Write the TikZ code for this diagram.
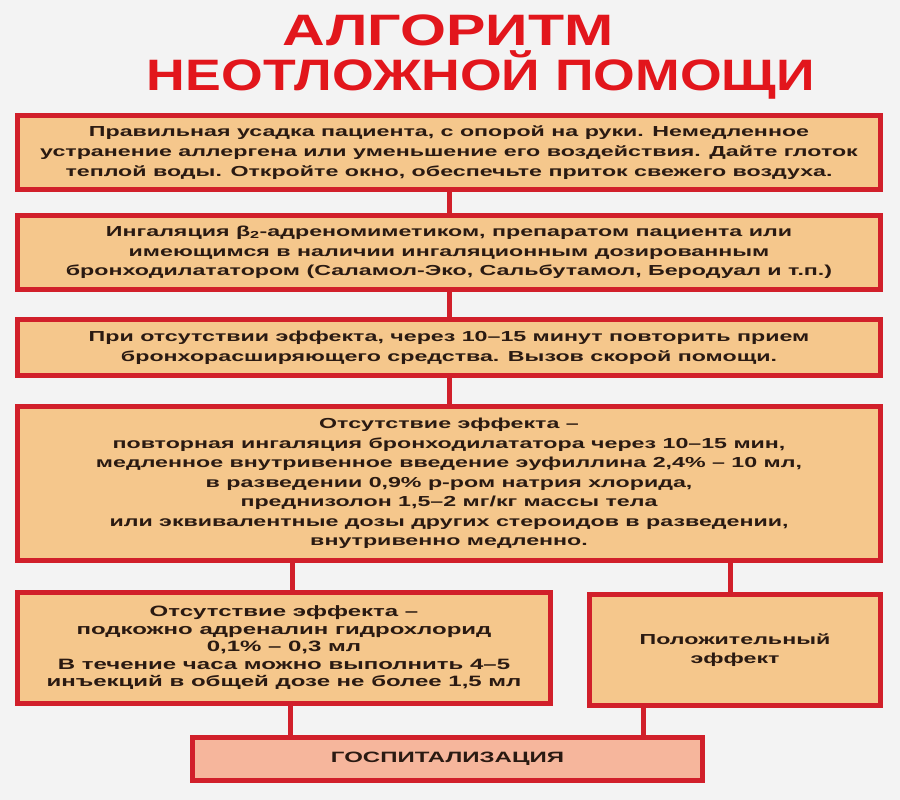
\documentclass[tikz,border=0pt]{standalone}
\usepackage{graphicx}
\usepackage{fontspec}
\setmainfont{Liberation Sans}
\newfontfamily\bodyfont[FakeStretch=1.6]{Liberation Sans Bold}
\newfontfamily\titlefont{Liberation Sans Bold}
\definecolor{bgcol}{HTML}{F3F3F3}
\definecolor{boxfill}{HTML}{F5C78C}
\definecolor{hospfill}{HTML}{F6B69C}
\definecolor{border}{HTML}{D11F2A}
\definecolor{txt}{HTML}{2A1A12}
\definecolor{titlered}{HTML}{E2161C}
\tikzset{
  box/.style={draw=border, line width=5pt, fill=boxfill, align=center, text=txt,
    inner sep=0pt, font=\bodyfont\fontsize{14.5}{19.5}\selectfont},
  conn/.style={draw=border, line width=5pt},
  titletext/.style={text=titlered, font=\titlefont\fontsize{44}{44}\selectfont, inner sep=0pt, anchor=base},
}
\begin{document}
\begin{tikzpicture}[x=1pt,y=-1pt]
\fill[bgcol] (0,0) rectangle (900,800);
\useasboundingbox (0,0) rectangle (900,800);

\node[titletext] (t1) at (448,46) {\scalebox{1.343}[1]{АЛГОРИТМ}};
\node[titletext] (t2) at (481,91) {\scalebox{1.218}[1]{НЕОТЛОЖНОЙ ПОМОЩИ}};

\coordinate (x45) at (292,0);
\coordinate (x46) at (730,0);
\coordinate (x57) at (290,0);
\coordinate (x67) at (643,0);

\node[box, minimum width=863pt, minimum height=74pt,
  font=\bodyfont\fontsize{14.5}{20}\selectfont] (b1) at (449,152.5)
 {Правильная усадка пациента, с опорой на руки. Немедленное\\
  устранение аллергена или уменьшение его воздействия. Дайте глоток\\
  теплой воды. Откройте окно, обеспечьте приток свежего воздуха.};
\node[box, minimum width=863pt, minimum height=74pt] (b2) at (449,252.5)
 {Ингаляция β\textsubscript{2}-адреномиметиком, препаратом пациента или\\
  имеющимся в наличии ингаляционным дозированным\\
  бронходилататором (Саламол-Эко, Сальбутамол, Беродуал и т.п.)};
\node[box, minimum width=863pt, minimum height=56pt] (b3) at (449,347.5)
 {При отсутствии эффекта, через 10–15 минут повторить прием\\
  бронхорасширяющего средства. Вызов скорой помощи.};
\node[box, minimum width=863pt, minimum height=154pt] (b4) at (449,483.5)
 {Отсутствие эффекта –\\
  повторная ингаляция бронходилататора через 10–15 мин,\\
  медленное внутривенное введение эуфиллина 2,4\% – 10 мл,\\
  в разведении 0,9\% р-ром натрия хлорида,\\
  преднизолон 1,5–2 мг/кг массы тела\\
  или эквивалентные дозы других стероидов в разведении,\\
  внутривенно медленно.};
\node[box, minimum width=533pt, minimum height=111pt,
  font=\bodyfont\fontsize{15}{17.5}\selectfont] (b5) at (284,648)
 {Отсутствие эффекта –\\
  подкожно адреналин гидрохлорид\\
  0,1\% – 0,3 мл\\
  В течение часа можно выполнить 4–5\\
  инъекций в общей дозе не более 1,5 мл};
\node[box, minimum width=291pt, minimum height=111pt] (b6) at (735,650)
 {Положительный\\ эффект};
\node[box, fill=hospfill, minimum width=510pt, minimum height=43pt,
  font=\bodyfont\fontsize{15}{18}\selectfont] (b7) at (447.5,759)
 {ГОСПИТАЛИЗАЦИЯ};

\draw[conn] (b1.south) -- (b2.north);
\draw[conn] (b2.south) -- (b3.north);
\draw[conn] (b3.south) -- (b4.north);
\draw[conn] (b4.south -| x45) -- (b5.north -| x45);
\draw[conn] (b4.south -| x46) -- (b6.north -| x46);
\draw[conn] (b5.south -| x57) -- (b7.north -| x57);
\draw[conn] (b6.south -| x67) -- (b7.north -| x67);
\end{tikzpicture}
\end{document}
